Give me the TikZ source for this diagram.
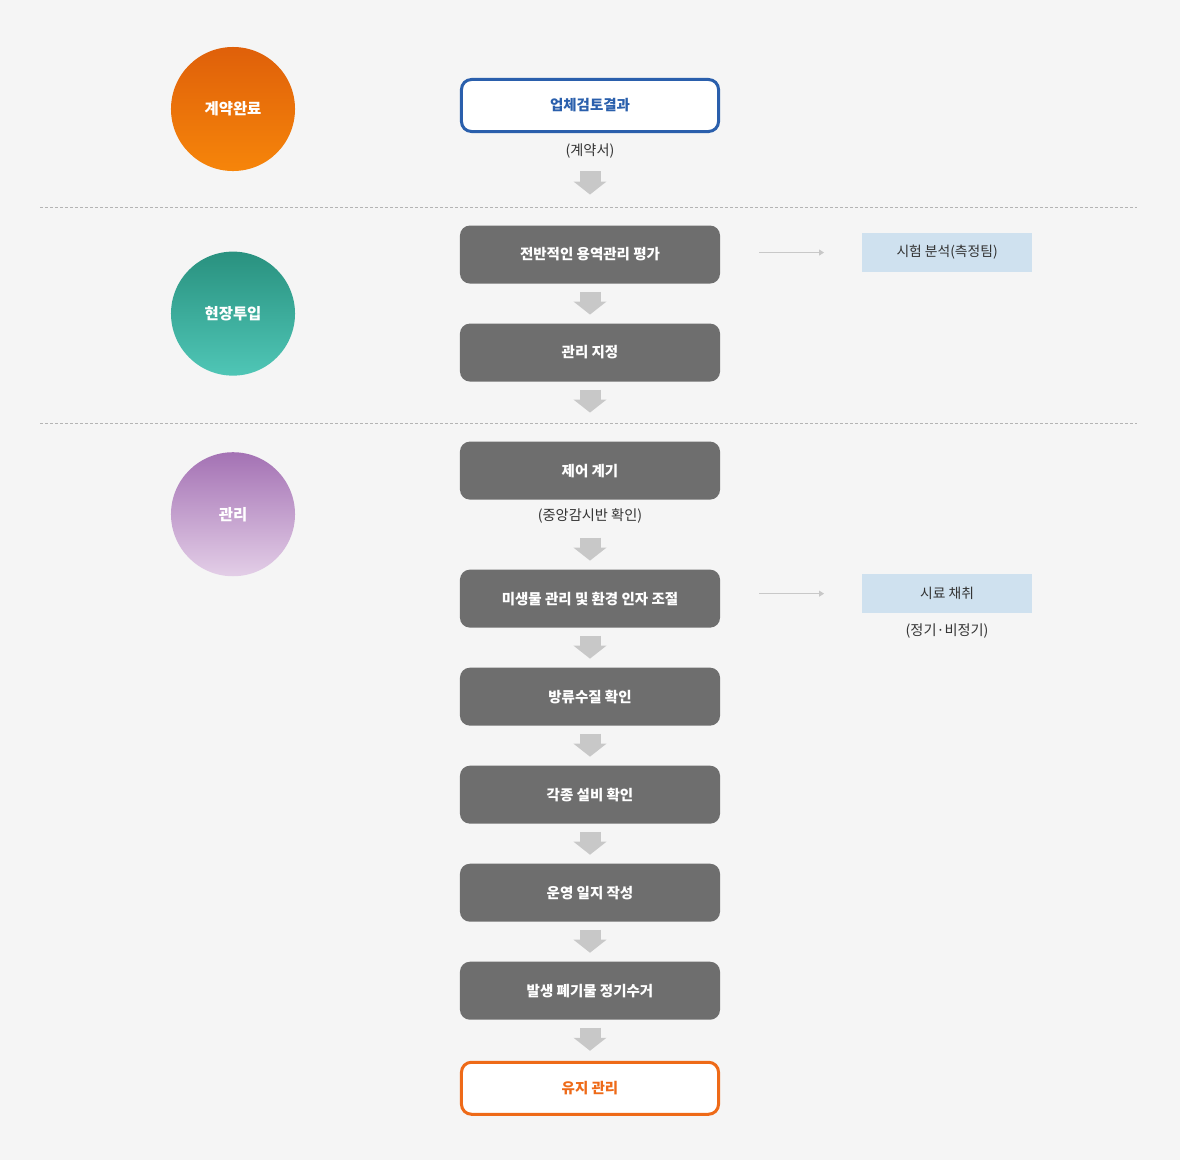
\documentclass[tikz,border=0pt]{standalone}
\usepackage{fontspec}
\setmainfont{Noto Sans CJK KR}
\usepackage{tikz}
\usetikzlibrary{positioning,arrows.meta}
\definecolor{pagebg}{HTML}{F5F5F5}
\definecolor{stepgray}{HTML}{6E6E6E}
\definecolor{startblue}{HTML}{2A5FAC}
\definecolor{endorange}{HTML}{EE6A18}
\definecolor{sidebg}{HTML}{CFE1EF}
\definecolor{darktext}{HTML}{333333}
\definecolor{arrgray}{HTML}{C8C8C8}
\definecolor{sepgray}{HTML}{B4B4B4}
\definecolor{orangetop}{HTML}{DF600A}
\definecolor{orangebot}{HTML}{F6850A}
\definecolor{tealtop}{HTML}{29917F}
\definecolor{tealbot}{HTML}{4FC6B6}
\definecolor{purpletop}{HTML}{A472B4}
\definecolor{purplebot}{HTML}{E3CEE7}

\begin{document}
\begin{tikzpicture}[
  x=0.025cm, y=-0.025cm,
  node distance=1cm,
  phase/.style={circle, minimum size=3.1cm, inner sep=0pt, text=white,
    font=\fontsize{11}{13}\selectfont\bfseries},
  stepbox/.style={rectangle, fill=stepgray, text=white, rounded corners=0.25cm,
    minimum width=6.5cm, minimum height=1.45cm, outer sep=0pt,
    font=\fontsize{10.3}{12}\selectfont\bfseries, align=center},
  endbox/.style={stepbox, fill=white, line width=0.075cm,
    minimum width=6.425cm, minimum height=1.3cm},
  note/.style={inner sep=0pt, text=darktext, font=\fontsize{10.1}{12}\selectfont},
  sidebox/.style={rectangle, fill=sidebg, text=darktext,
    minimum width=4.25cm, minimum height=0.975cm, outer sep=0pt,
    font=\fontsize{9.8}{11}\selectfont},
  downarr/.style={-{Triangle[length=0.325cm, width=0.825cm, line width=0pt]},
    line width=0.525cm, color=arrgray},
  sidearr/.style={-{Triangle[length=0.125cm, width=0.15cm]},
    line width=0.025cm, color=arrgray},
  sepline/.style={dash pattern=on 0.075cm off 0.05cm, line width=0.025cm, color=sepgray},
]
\fill[pagebg] (0,0) rectangle (1180,1160);
\draw[sepline] (40,207) -- (1137,207);
\draw[sepline] (40,423) -- (1137,423);

% phases
\node[phase, top color=orangetop, bottom color=orangebot] (c1) at (233,109) {계약완료};
\node[phase, top color=tealtop, bottom color=tealbot, below=2cm of c1] (c2) {현장투입};
\node[phase, top color=purpletop, bottom color=purplebot, below=1.9cm of c2] (c3) {관리};

% main flow
\node[endbox, draw=startblue, text=startblue] (b1) at (590,105.5) {업체검토결과};
\node[note, below=0.3cm of b1] (n1) {(계약서)};
\node[stepbox, below=2.35cm of b1] (b2) {전반적인 용역관리 평가};
\node[stepbox, below=of b2] (b3) {관리 지정};
\node[stepbox, below=1.5cm of b3] (b4) {제어 계기};
\node[note, below=0.22cm of b4] (n4) {(중앙감시반 확인)};
\node[stepbox, below=1.75cm of b4] (b5) {미생물 관리 및 환경 인자 조절};
\node[stepbox, below=of b5] (b6) {방류수질 확인};
\node[stepbox, below=of b6] (b7) {각종 설비 확인};
\node[stepbox, below=of b7] (b8) {운영 일지 작성};
\node[stepbox, below=of b8] (b9) {발생 폐기물 정기수거};
\node[endbox, draw=endorange, text=endorange, below=1.0625cm of b9] (b10) {유지 관리};

% side tasks
\node[sidebox, right=3.55cm of b2, yshift=0.05cm] (s1) {시험 분석(측정팀)};
\node[sidebox, right=3.55cm of b5, yshift=0.125cm] (s2) {시료 채취};
\node[note, below=0.25cm of s2] (n5) {(정기·비정기)};

\draw[downarr, shorten <=0.9875cm, shorten >=0.775cm] (b1) -- (b2);
\draw[downarr, shorten <=0.2cm, shorten >=0.225cm] (b2) -- (b3);
\draw[downarr, shorten <=0.2cm, shorten >=0.725cm] (b3) -- (b4);
\draw[downarr, shorten <=0.95cm, shorten >=0.225cm] (b4) -- (b5);
\draw[downarr, shorten <=0.2cm, shorten >=0.225cm] (b5) -- (b6);
\draw[downarr, shorten <=0.2cm, shorten >=0.225cm] (b6) -- (b7);
\draw[downarr, shorten <=0.2cm, shorten >=0.225cm] (b7) -- (b8);
\draw[downarr, shorten <=0.2cm, shorten >=0.225cm] (b8) -- (b9);
\draw[downarr, shorten <=0.2cm, shorten >=0.2875cm] (b9) -- (b10);
\draw[sidearr, shorten <=0.975cm, shorten >=0.95cm] (s1.west -| b2.east) -- (s1.west);
\draw[sidearr, shorten <=0.975cm, shorten >=0.95cm] (s2.west -| b5.east) -- (s2.west);
\end{tikzpicture}
\end{document}
